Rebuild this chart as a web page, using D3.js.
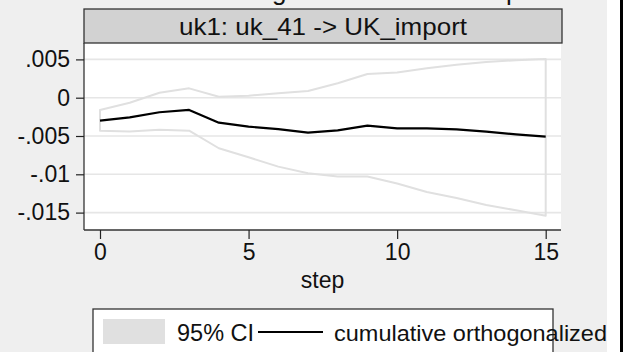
<!DOCTYPE html>
<html>
<head>
<meta charset="utf-8">
<script src="https://cdn.jsdelivr.net/npm/d3@7"></script>
<style>
body{margin:0;padding:0;background:#fff;}
svg{display:block;font-family:"Liberation Sans",Arial,sans-serif;}
</style>
</head>
<body>
<script>
//Data
var steps = [0,1,2,3,4,5,6,7,8,9,10,11,12,13,14,15];
var irf = [-0.0030,-0.00256,-0.0019,-0.0016,-0.00326,-0.00378,-0.0041,-0.00457,-0.00426,-0.00365,-0.0040,-0.0040,-0.00413,-0.00443,-0.00478,-0.00509];
var upper = [-0.0016,-0.00065,0.00065,0.00122,0.00013,0.00026,0.00057,0.00087,0.00188,0.0031,0.0033,0.00383,0.0043,0.00466,0.0049,0.00505];
var lower = [-0.0043,-0.0044,-0.0042,-0.0043,-0.0066,-0.00778,-0.009,-0.00987,-0.0103,-0.0103,-0.0112,-0.0123,-0.0131,-0.014,-0.0147,-0.0154];
var yTicks = [0.005,0,-0.005,-0.01,-0.015];
var yTickLabels = [".005","0","-.005","-.01","-.015"];
var xTicks = [0,5,10,15];
var panelTitle = "uk1: uk_41 -> UK_import";
var xTitle = "step";
var legendLabels = ["95% CI","cumulative orthogonalized"];
var topTitle = "Cumulative IRF of the 41 goods sector: UK imports";

//SVG size and plot region
var W = 626, H = 352;
var plot = {left:84,right:561,top:43,bottom:230};

var svg = d3.select("body")
    .append("svg")
        .attr("width",W)
        .attr("height",H);

//Background pieces
svg.append("rect").attr("width",W).attr("height",H).attr("fill","#ffffff");
svg.append("rect").attr("width",607).attr("height",H).attr("fill","#efefef");
svg.append("rect").attr("x",620).attr("width",3).attr("height",H).attr("fill","#000000");

//Title cut off at the top, only the descenders show
var tt = svg.append("text")
    .attr("x",0).attr("y",0)
    .attr("font-size",26)
    .attr("fill","#111")
    .text(topTitle);
var gi = topTitle.indexOf("goods");
var gx = tt.node().getStartPositionOfChar(gi).x;
tt.attr("x",272-gx);

//Scales
var x = d3.scaleLinear().domain([0,15]).range([100,545.7]);
var y = d3.scaleLinear().domain([0,0.005]).range([97.7,59.4]);

//Plot area
svg.append("rect")
    .attr("x",plot.left).attr("y",plot.top)
    .attr("width",plot.right-plot.left).attr("height",plot.bottom-plot.top)
    .attr("fill","#ffffff");

//Grid lines
svg.append("g").selectAll("line")
    .data(yTicks)
    .enter()
    .append("line")
        .attr("x1",plot.left).attr("x2",plot.right)
        .attr("y1",function(d){return y(d);})
        .attr("y2",function(d){return y(d);})
        .attr("stroke","#e6e6e6")
        .attr("stroke-width",1.6);

//CI band outline
var band = steps.map(function(s,i){return {s:s,lo:lower[i],hi:upper[i]};});
var area = d3.area()
    .x(function(d){return x(d.s);})
    .y0(function(d){return y(d.lo);})
    .y1(function(d){return y(d.hi);});
svg.append("path")
    .attr("d",area(band))
    .attr("fill","none")
    .attr("stroke","#e0e0e0")
    .attr("stroke-width",2)
    .attr("stroke-linejoin","round");

//IRF line
var line = d3.line()
    .x(function(d,i){return x(steps[i]);})
    .y(function(d){return y(d);});
svg.append("path")
    .attr("d",line(irf))
    .attr("fill","none")
    .attr("stroke","#000")
    .attr("stroke-width",2.2)
    .attr("stroke-linejoin","round");

//Axes
var yAxis = d3.axisLeft(y)
    .tickValues(yTicks)
    .tickSize(8)
    .tickPadding(6)
    .tickFormat(function(d,i){return yTickLabels[i];});
var gy = svg.append("g")
    .attr("transform","translate("+plot.left+",0)")
    .call(yAxis);
gy.select(".domain").attr("d","M0,"+plot.top+"V"+plot.bottom).attr("stroke","#333").attr("stroke-width",1.3);

var xAxis = d3.axisBottom(x)
    .tickValues(xTicks)
    .tickSize(9)
    .tickPadding(5)
    .tickFormat(d3.format("d"));
var gx2 = svg.append("g")
    .attr("transform","translate(0,"+plot.bottom+")")
    .call(xAxis);
gx2.select(".domain").attr("d","M"+plot.left+",0H"+plot.right).attr("stroke","#333").attr("stroke-width",1.3);

svg.selectAll(".tick line").attr("stroke","#222").attr("stroke-width",1.2);
svg.selectAll(".tick text")
    .attr("font-family","Liberation Sans, Arial, sans-serif")
    .attr("font-size",23)
    .attr("fill","#111");

//Panel header
svg.append("rect")
    .attr("x",plot.left).attr("y",9)
    .attr("width",562-plot.left).attr("height",plot.top-9)
    .attr("fill","#d2d2d2")
    .attr("stroke","#333")
    .attr("stroke-width",1.3);
svg.append("text")
    .attr("x",(plot.left+562)/2).attr("y",35)
    .attr("text-anchor","middle")
    .attr("font-size",24)
    .attr("textLength",288)
    .attr("lengthAdjust","spacingAndGlyphs")
    .attr("fill","#111")
    .text(panelTitle);

//Axis title
svg.append("text")
    .attr("x",(plot.left+plot.right)/2).attr("y",288)
    .attr("text-anchor","middle")
    .attr("font-size",23)
    .attr("fill","#111")
    .text(xTitle);

//Legend
var legend = svg.append("g").attr("class","legend");
legend.append("rect")
    .attr("x",93).attr("y",309)
    .attr("width",553-93).attr("height",60)
    .attr("fill","#ffffff")
    .attr("stroke","#333")
    .attr("stroke-width",1.3);
legend.append("rect")
    .attr("x",103).attr("y",319)
    .attr("width",62).attr("height",25)
    .attr("fill","#e0e0e0");
legend.append("text")
    .attr("x",177).attr("y",341)
    .attr("font-size",23.5)
    .attr("fill","#111")
    .text(legendLabels[0]);
legend.append("line")
    .attr("x1",258).attr("x2",323)
    .attr("y1",332).attr("y2",332)
    .attr("stroke","#000")
    .attr("stroke-width",2.2);
legend.append("text")
    .attr("x",334).attr("y",341)
    .attr("font-size",22.5)
    .attr("textLength",273)
    .attr("lengthAdjust","spacingAndGlyphs")
    .attr("fill","#111")
    .text(legendLabels[1]);
</script>
</body>
</html>
